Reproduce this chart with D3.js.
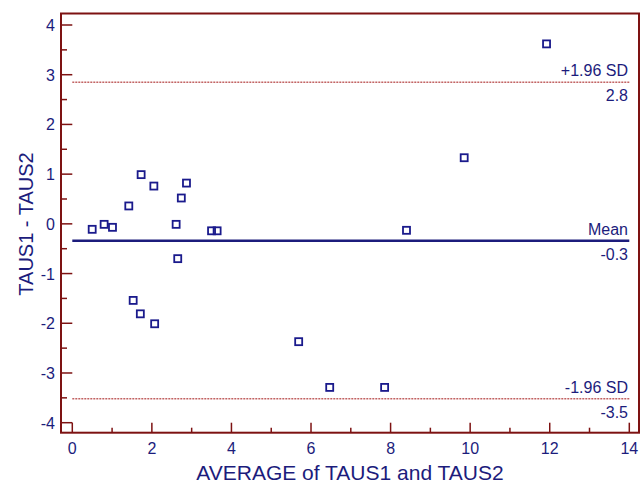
<!DOCTYPE html>
<html>
<head>
<meta charset="utf-8">
<script src="https://cdn.jsdelivr.net/npm/d3@7"></script>
<style>
  body { margin: 0; background: #fff; }
  text { font-family: "Liberation Sans", Arial, sans-serif; fill: #1c1c7c; }
</style>
</head>
<body>
<svg id="chart" width="641" height="486"></svg>
<script>
// Bland-Altman data: average (x) and difference (y)
const avgValues = [0.50, 0.80, 1.01, 1.42, 1.73, 2.05, 2.87, 2.74, 2.61, 3.50, 3.64,
                   2.65, 1.53, 1.71, 2.07, 5.69, 6.47, 7.85, 8.40, 9.85, 11.92];
const diffValues = [-0.11, -0.01, -0.07, 0.36, 0.99, 0.76, 0.82, 0.52, -0.01, -0.14, -0.14,
                    -0.70, -1.54, -1.81, -2.01, -2.37, -3.29, -3.29, -0.13, 1.33, 3.62];

// reference lines: value, label above, value label below, style
const refLines = [
  {value: 2.85, name: "+1.96 SD", label: "2.8", kind: "sd"},
  {value: -0.34, name: "Mean", label: "-0.3", kind: "mean"},
  {value: -3.52, name: "-1.96 SD", label: "-3.5", kind: "sd"}
];

const xTicks = [0, 2, 4, 6, 8, 10, 12, 14];
const xMinor = [1, 3, 5, 7, 9, 11, 13];
const yTicks = [-4, -3, -2, -1, 0, 1, 2, 3, 4];
const yMinor = [-3.5, -2.5, -1.5, -0.5, 0.5, 1.5, 2.5, 3.5];

const axisColor = "#7d1212";
const navy = "#1c1c7c";

const svg = d3.select("#chart");

// frame and scales
const frame = {left: 61, right: 639, top: 13.5, bottom: 432.7};
const x = d3.scaleLinear().domain([0, 14]).range([72.3, 629.3]);
const y = d3.scaleLinear().domain([-4, 4]).range([422.7, 25]);

// major ticks reach the origin offset, minor ticks are short
const majorLen = x(0) - frame.left;
const minorLen = 6;

// y axis ticks
svg.append("g").selectAll("line.ymaj").data(yTicks).enter().append("line")
  .attr("x1", frame.left).attr("x2", frame.left + majorLen)
  .attr("y1", d => y(d)).attr("y2", d => y(d))
  .attr("stroke", axisColor).attr("stroke-width", 1.5);
svg.append("g").selectAll("line.ymin").data(yMinor).enter().append("line")
  .attr("x1", frame.left).attr("x2", frame.left + minorLen)
  .attr("y1", d => y(d)).attr("y2", d => y(d))
  .attr("stroke", axisColor).attr("stroke-width", 1.5);

// x axis ticks
svg.append("g").selectAll("line.xmaj").data(xTicks).enter().append("line")
  .attr("x1", d => x(d)).attr("x2", d => x(d))
  .attr("y1", frame.bottom).attr("y2", y(-4))
  .attr("stroke", axisColor).attr("stroke-width", 1.5);
svg.append("g").selectAll("line.xmin").data(xMinor).enter().append("line")
  .attr("x1", d => x(d)).attr("x2", d => x(d))
  .attr("y1", frame.bottom).attr("y2", frame.bottom - 5)
  .attr("stroke", axisColor).attr("stroke-width", 1.5);

// tick labels
svg.append("g").selectAll("text").data(yTicks).enter().append("text")
  .attr("x", 55).attr("y", d => y(d) + 6)
  .attr("text-anchor", "end").attr("font-size", 16)
  .text(d => d);
svg.append("g").selectAll("text").data(xTicks).enter().append("text")
  .attr("x", d => x(d)).attr("y", 454)
  .attr("text-anchor", "middle").attr("font-size", 16)
  .text(d => d);

// frame
svg.append("rect")
  .attr("x", frame.left).attr("y", frame.top)
  .attr("width", frame.right - frame.left).attr("height", frame.bottom - frame.top)
  .attr("fill", "none").attr("stroke", axisColor).attr("stroke-width", 2);

// reference lines
const refs = svg.append("g").selectAll("g").data(refLines).enter().append("g");
refs.append("line")
  .attr("x1", x(0)).attr("x2", x(14))
  .attr("y1", d => y(d.value)).attr("y2", d => y(d.value))
  .attr("stroke", d => d.kind === "mean" ? navy : "#a31515")
  .attr("stroke-width", d => d.kind === "mean" ? 2.5 : 1)
  .attr("stroke-dasharray", d => d.kind === "mean" ? null : "2,1");
refs.append("text")
  .attr("x", 628).attr("y", d => y(d.value) - 6)
  .attr("text-anchor", "end").attr("font-size", 16)
  .text(d => d.name);
refs.append("text")
  .attr("x", 628).attr("y", d => y(d.value) + 19)
  .attr("text-anchor", "end").attr("font-size", 16)
  .text(d => d.label);

// points
const pts = d3.zip(avgValues, diffValues);
svg.append("g").selectAll("rect").data(pts).enter().append("rect")
  .attr("x", d => x(d[0]) - 3.5).attr("y", d => y(d[1]) - 3.5)
  .attr("width", 7).attr("height", 7)
  .attr("fill", "none").attr("stroke", "#1a1a8c").attr("stroke-width", 1.8);

// axis titles
svg.append("text")
  .attr("x", 350).attr("y", 480)
  .attr("text-anchor", "middle").attr("font-size", 21)
  .text("AVERAGE of TAUS1 and TAUS2");
svg.append("text")
  .attr("transform", "translate(33,224) rotate(-90)")
  .attr("text-anchor", "middle").attr("font-size", 20)
  .text("TAUS1 - TAUS2");
</script>
</body>
</html>
